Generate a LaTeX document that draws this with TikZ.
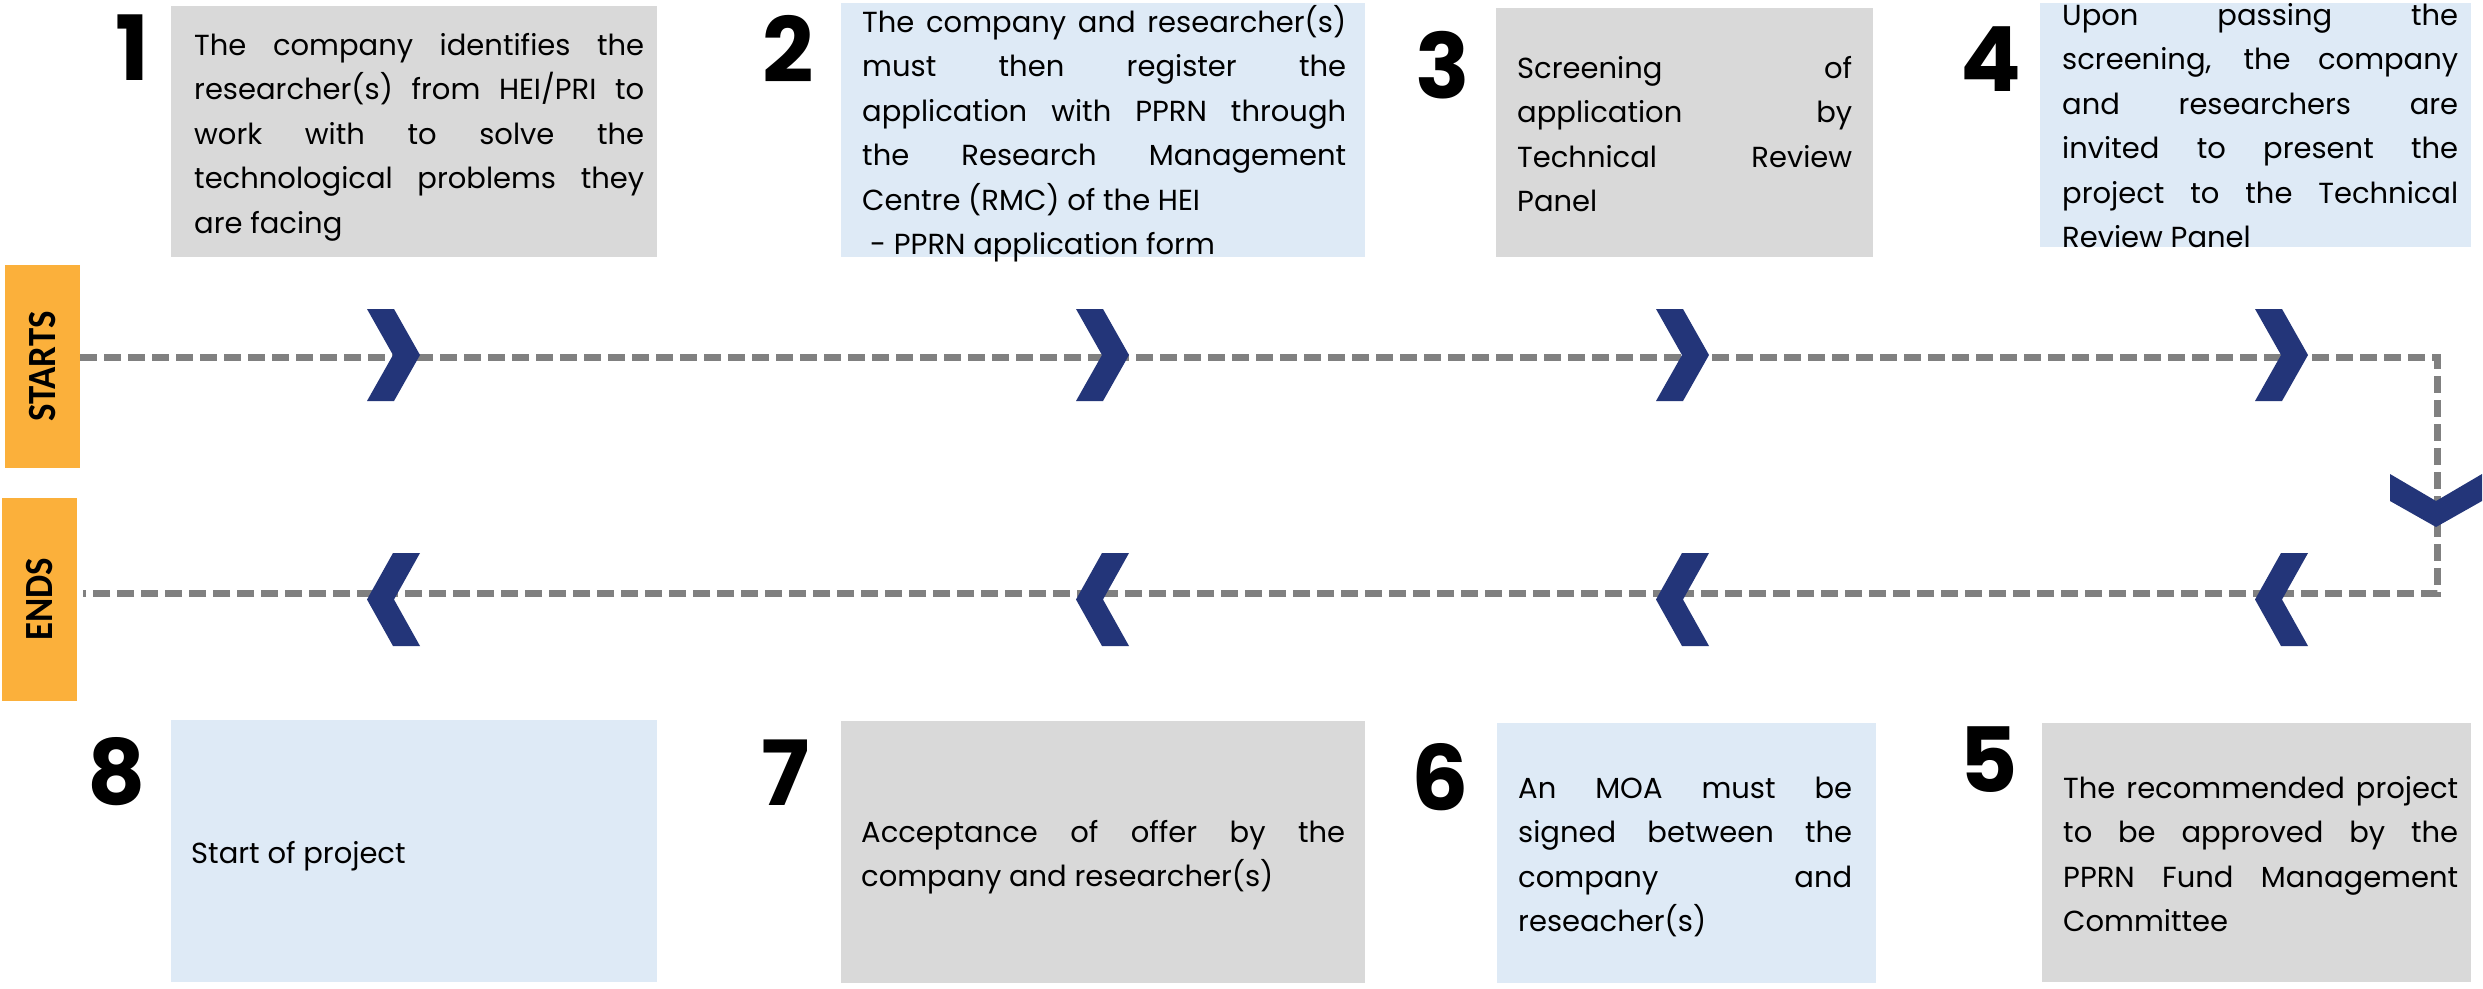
\documentclass[tikz,border=0pt]{standalone}
\usepackage{fontspec}
\usepackage{graphicx}
\setmainfont{Poppins}
\newfontfamily\labfont{Carlito}
\definecolor{boxgray}{HTML}{D9D9D9}
\definecolor{boxblue}{HTML}{DEEAF6}
\definecolor{orangebar}{HTML}{FBB03B}
\definecolor{navy}{HTML}{233579}
\definecolor{dashgray}{HTML}{808080}
\newcommand\jline[2]{\makebox[#1pt][s]{\strut#2}}
\newcommand\lline[2]{\makebox[#1pt][l]{\strut#2}}
\newcommand\chevR[2]{\fill[navy] (#1,#2) -- ++(27,0) -- ++(26,46) -- ++(-26,46) -- ++(-27,0) -- ++(26,-46) -- cycle;}
\newcommand\chevL[2]{\fill[navy] (#1+53,#2) -- ++(-27,0) -- ++(-26,46.5) -- ++(26,46.5) -- ++(27,0) -- ++(-26,-46.5) -- cycle;}
\begin{document}
\begin{tikzpicture}[x=1pt,y=-1pt,
  box/.style={rectangle, inner sep=0pt, outer sep=0pt, draw=none},
  graybox/.style={box, fill=boxgray},
  bluebox/.style={box, fill=boxblue},
  endbox/.style={box, fill=orangebar, minimum width=75pt, minimum height=203pt},
  endlabel/.style={rotate=90, inner sep=0pt, font=\labfont\bfseries\fontsize{40}{40}\selectfont},
  num/.style={anchor=base, inner sep=0pt, font=\bfseries\fontsize{90}{90}\selectfont},
  steptext/.style={anchor=north west, inner sep=0pt, align=left, font=\fontsize{29}{44.5}\selectfont},
  flow/.style={draw=dashgray, line width=7pt, dash pattern=on 17pt off 7pt}
]
\useasboundingbox (0,0) rectangle (2483,988);
\fill[white] (0,0) rectangle (2483,988);

% step boxes
\node[graybox, minimum width=486pt, minimum height=251pt] (b1) at (414,131.5) {};
\node[bluebox, minimum width=524pt, minimum height=254pt] (b2) at (1103,130) {};
\node[graybox, minimum width=377pt, minimum height=249pt] (b3) at (1684.5,132.5) {};
\node[bluebox, minimum width=431pt, minimum height=244pt] (b4) at (2255.5,125) {};
\node[graybox, minimum width=429pt, minimum height=259pt] (b5) at (2256.5,852.5) {};
\node[bluebox, minimum width=379pt, minimum height=260pt] (b6) at (1686.5,853) {};
\node[graybox, minimum width=524pt, minimum height=262pt] (b7) at (1103,852) {};
\node[bluebox, minimum width=486pt, minimum height=262pt] (b8) at (414,851) {};

% start / end bars
\node[endbox] (starts) at (42.5,366.5) {};
\node[endlabel] (startslabel) at (starts.center) {\scalebox{0.92}[1]{STARTS}};
\node[endbox] (ends) at (39.5,599.5) {};
\node[endlabel] (endslabel) at (ends.center) {\scalebox{0.92}[1]{ENDS}};

% flow line
\coordinate (turnA) at (2437,357);
\coordinate (turnB) at (2437,593);
\draw[flow] (starts.east |- turnA) -- (turnA) -- (turnB) -- ([xshift=6pt]ends.east |- turnB);

% chevrons
\chevR{367}{309}
\chevR{1076}{309}
\chevR{1656}{309}
\chevR{2255}{309}
\chevL{367}{553}
\chevL{1076}{553}
\chevL{1656}{553}
\chevL{2255}{553}
\fill[navy] (2390,474) -- (2390,501) -- (2436,527) -- (2482,501) -- (2482,474) -- (2436,501) -- cycle;

% numbers
\node[num] (n1) at (132,80) {1};
\node[num] (n2) at (788,82) {2};
\node[num] (n3) at (1443,98) {3};
\node[num] (n4) at (1991,91) {4};
\node[num] (n5) at (1989,792) {5};
\node[num] (n6) at (1440,810) {6};
\node[num] (n7) at (786,805) {7};
\node[num] (n8) at (117,804) {8};

% texts
\node[steptext] (t1) at (194,23.85) {\jline{450}{The company identifies the}\\%
\jline{450}{researcher(s) from HEI/PRI to}\\%
\jline{450}{work with to solve the}\\%
\jline{450}{technological problems they}\\%
\lline{450}{are facing}};

\node[steptext] (t2) at (862,0.85) {\jline{484}{The company and researcher(s)}\\%
\jline{484}{must then register the}\\%
\jline{484}{application with PPRN through}\\%
\jline{484}{the Research Management}\\%
\lline{484}{Centre (RMC) of the HEI}\\%
\lline{484}{\hspace*{8pt}- PPRN application form}};

\node[steptext] (t3) at (1517,46.85) {\jline{335}{Screening of}\\%
\jline{335}{application by}\\%
\jline{335}{Technical Review}\\%
\lline{335}{Panel}};

\node[steptext] (t4) at (2062,-6.15) {\jline{396}{Upon passing the}\\%
\jline{396}{screening, the company}\\%
\jline{396}{and researchers are}\\%
\jline{396}{invited to present the}\\%
\jline{396}{project to the Technical}\\%
\lline{396}{Review Panel}};

\node[steptext] (t5) at (2063,766.85) {\jline{395}{The recommended project}\\%
\jline{395}{to be approved by the}\\%
\jline{395}{PPRN Fund Management}\\%
\lline{395}{Committee}};

\node[steptext] (t6) at (1518,766.85) {\jline{334}{An MOA must be}\\%
\jline{334}{signed between the}\\%
\jline{334}{company and}\\%
\lline{334}{reseacher(s)}};

\node[steptext] (t7) at (861,810.85) {\jline{484}{Acceptance of offer by the}\\%
\lline{484}{company and researcher(s)}};

\node[steptext] (t8) at (191,831.85) {\lline{300}{Start of project}};
\end{tikzpicture}
\end{document}
